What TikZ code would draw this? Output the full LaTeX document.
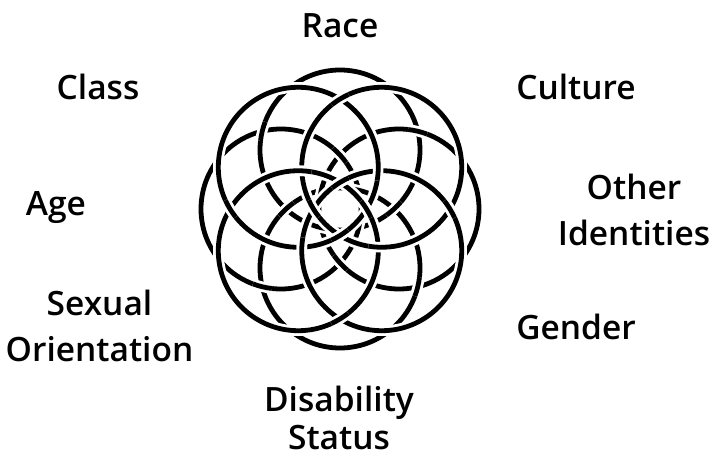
\documentclass[tikz,border=0pt]{standalone}
\usepackage{fontspec}
\setmainfont{Open Sans}[BoldFont={Open Sans Semibold}]
\begin{document}
\begin{tikzpicture}[x=1pt,y=1pt,
  ring/.style={line width=4.8pt,black},
  halo/.style={line width=10.5pt,white},
  lbl/.style={font=\fontsize{33.5}{46}\selectfont\bfseries,align=center,inner sep=0pt}]
\useasboundingbox (0,0) rectangle (714,458);
\coordinate (O) at (340,249);
\def\Rr{80}\def\Dd{59}\def\dl{7}
% lower layer: circles on the axes
\foreach \i in {0,2,4,6} \draw[ring] (O) ++(45*\i:\Dd) circle[radius=\Rr];
\foreach \i in {0,2,4,6} \foreach \a in {76.43,166.43,222.48} {
  \pgfmathsetmacro\ph{45*\i+\a}
  \draw[halo] (O) ++(45*\i:\Dd) ++(\ph-\dl:\Rr) arc[start angle=\ph-\dl,end angle=\ph+\dl,radius=\Rr];
  \draw[ring] (O) ++(45*\i:\Dd) ++(\ph-\dl:\Rr) arc[start angle=\ph-\dl,end angle=\ph+\dl,radius=\Rr];
}
% upper layer: diagonal circles
\foreach \i in {1,3,5,7} {
  \draw[halo] (O) ++(45*\i:\Dd) circle[radius=\Rr];
  \draw[ring] (O) ++(45*\i:\Dd) circle[radius=\Rr];
}
\foreach \i in {1,3,5,7} \foreach \a in {76.43,166.43,222.48} {
  \pgfmathsetmacro\ph{45*\i+\a}
  \draw[halo] (O) ++(45*\i:\Dd) ++(\ph-\dl:\Rr) arc[start angle=\ph-\dl,end angle=\ph+\dl,radius=\Rr];
  \draw[ring] (O) ++(45*\i:\Dd) ++(\ph-\dl:\Rr) arc[start angle=\ph-\dl,end angle=\ph+\dl,radius=\Rr];
}
% labels
\node[lbl] (race) at (340,432) {Race};
\node[lbl] (class) at (98,371) {Class};
\node[lbl] (culture) at (576,371) {Culture};
\node[lbl] (age) at (56,250) {Age};
\node[lbl] (other) at (634,248) {Other\\Identities};
\node[lbl] (sexual) at (99.5,132) {Sexual\\Orientation};
\node[lbl] (gender) at (576,131) {Gender};
\node[lbl] (disab) at (339,40) {Disability\\[-8pt]Status};
\end{tikzpicture}
\end{document}
